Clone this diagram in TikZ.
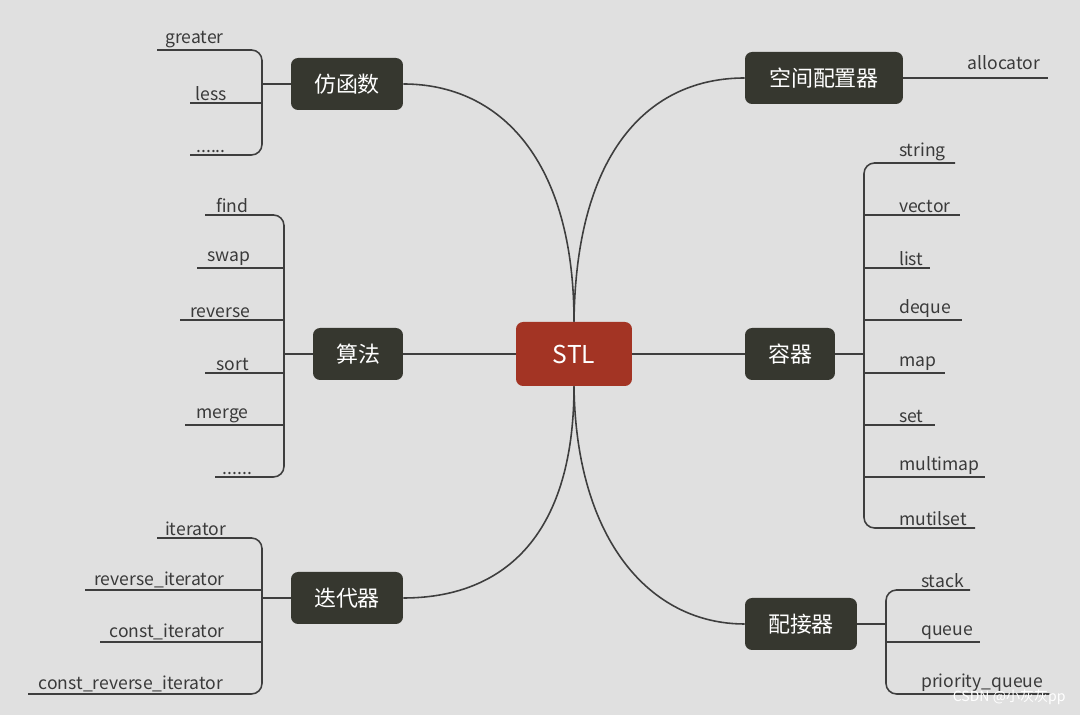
\documentclass[tikz,border=0pt]{standalone}
\usepackage{fontspec}
\setmainfont{Noto Sans CJK SC}
\usetikzlibrary{positioning}
\definecolor{bgc}{HTML}{E0E0E0}
\definecolor{boxc}{HTML}{36372F}
\definecolor{stlc}{HTML}{A33424}
\definecolor{linec}{HTML}{3E3E3E}
\definecolor{txtc}{HTML}{3A3A3A}
\newcommand{\sixdots}{......}
\tikzset{
  topic/.style={fill=boxc, text=white, rounded corners=4pt, font=\fontsize{12.5}{14}\selectfont, minimum height=1.04cm, inner sep=0pt},
  leaf/.style={text=txtc, font=\fontsize{10}{12}\selectfont, anchor=south, inner sep=1pt},
  conn/.style={draw=linec, line width=0.9pt},
}
\begin{document}
\begin{tikzpicture}[x=0.02cm, y=-0.02cm]
    \fill[bgc] (0,0) rectangle (1080,715);
    \useasboundingbox (0,0) rectangle (1080,715);

    % Center and topics
    \node[topic, fill=stlc, minimum width=2.32cm, minimum height=1.28cm, font=\fontsize{14}{16}\selectfont] (stl) at (574,354) {STL};
    \node[topic, minimum width=2.24cm] (func) at (347,84) {仿函数};
    \node[topic, minimum width=1.8cm] (algo) at (358,354) {算法};
    \node[topic, minimum width=2.24cm] (iter) at (347,598) {迭代器};
    \node[topic, minimum width=3.16cm] (alloc) at (824,78) {空间配置器};
    \node[topic, minimum width=1.8cm] (cont) at (790,354) {容器};
    \node[topic, minimum width=2.24cm] (adpt) at (801,624) {配接器};

    \draw[conn] (stl.north) .. controls (574,160) and (500,84) .. (func.east);
    \draw[conn] (stl.north) .. controls (576,150) and (650,78) .. (alloc.west);
    \draw[conn] (stl.south) .. controls (574,540) and (500,598) .. (iter.east);
    \draw[conn] (stl.south) .. controls (576,540) and (650,624) .. (adpt.west);
    \draw[conn] (stl.west) -- (algo.east);
    \draw[conn] (stl.east) -- (cont.west);

    % Left leaves: \y/\t/\s
    \draw[conn, rounded corners=6pt] (157,50) -- (262,50) -- (262,155) -- (190,155);
    \draw[conn] (262,84) -- (func.west) (190,103) -- (262,103);
    \foreach \y/\t/\s in {50/greater/157, 103/less/190, 155/\sixdots/190}
        \node[leaf] at ({(\s+262)/2-15}, \y) {\t};

    \draw[conn, rounded corners=6pt] (205,215) -- (284,215) -- (284,477) -- (215,477);
    \draw[conn] (284,354) -- (algo.west);
    \foreach \y/\s in {268/197, 320/180, 373/205, 425/185}
        \draw[conn] (\s,\y) -- (284,\y);
    \foreach \y/\t/\s in {215/find/205, 268/swap/197, 320/reverse/180, 373/sort/205, 425/merge/185, 477/\sixdots/215}
        \node[leaf] at ({(\s+284)/2-12}, \y) {\t};

    \draw[conn, rounded corners=6pt] (157,538) -- (262,538) -- (262,694) -- (28,694);
    \draw[conn] (262,598) -- (iter.west);
    \foreach \y/\s in {590/85, 642/100}
        \draw[conn] (\s,\y) -- (262,\y);
    \foreach \y/\t/\s in {538/iterator/157, 590/reverse\_iterator/85, 642/const\_iterator/100, 694/const\_reverse\_iterator/28}
        \node[leaf] at ({(\s+262)/2-14}, \y) {\t};

    % Right leaves
    \draw[conn] (alloc.east) -- (1048,78);
    \node[leaf] (allocator) at (1004,72) {allocator};

    \draw[conn, rounded corners=6pt] (955,163) -- (864,163) -- (864,528) -- (975,528);
    \draw[conn] (cont.east) -- (864,354);
    \foreach \y/\e in {215/960, 268/930, 320/962, 373/945, 425/935, 477/985}
        \draw[conn] (864,\y) -- (\e,\y);
    \foreach \y/\t in {163/string, 215/vector, 268/list, 320/deque, 373/map, 425/set, 477/multimap, 528/mutilset}
        \node[leaf, anchor=south west] at (897,\y) {\t};

    \draw[conn, rounded corners=6pt] (970,590) -- (886,590) -- (886,694) -- (1050,694);
    \draw[conn] (adpt.east) -- (886,624) (886,642) -- (980,642);
    \foreach \y/\t in {590/stack, 642/queue, 694/priority\_queue}
        \node[leaf, anchor=south west] at (919,\y) {\t};

    \node[text=white, font=\fontsize{8}{9}\selectfont, anchor=east, inner sep=0pt] (mark) at (1066,697) {CSDN @小灰灰pp};
\end{tikzpicture}
\end{document}
